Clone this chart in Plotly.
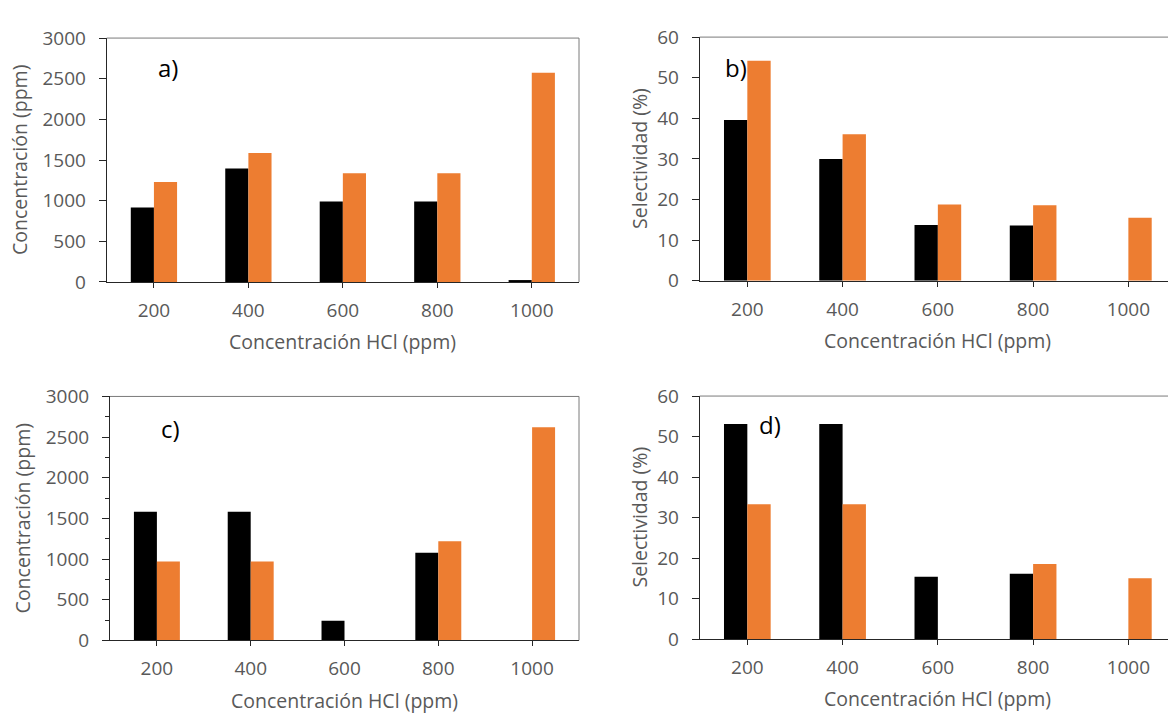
import plotly.graph_objects as go

# HCl concentration categories (ppm)
categories = ["200", "400", "600", "800", "1000"]

# a) concentration (ppm)
conc_a_black = [915, 1395, 990, 990, 12]
conc_a_orange = [1230, 1585, 1337, 1337, 2575]

# b) selectivity (%)
sel_b_black = [39.6, 30.0, 13.7, 13.6, 0]
sel_b_orange = [54.2, 36.1, 18.8, 18.6, 15.5]

# c) concentration (ppm)
conc_c_black = [1583, 1583, 241, 1077, 0]
conc_c_orange = [970, 970, 0, 1219, 2620]

# d) selectivity (%)
sel_d_black = [53.1, 53.1, 15.4, 16.1, 0]
sel_d_orange = [33.3, 33.3, 0, 18.5, 15.0]

panel_labels = ["a)", "b)", "c)", "d)"]
x_title = "Concentración HCl (ppm)"
y_titles = ["Concentración (ppm)", "Selectividad (%)", "Concentración (ppm)", "Selectividad (%)"]

W, H = 1168, 725
BLACK = "#000000"
ORANGE = "#ED7D31"
GREY = "#595959"
AXIS = "#262626"
FRAME = "#7a7a7a"
FONT = "Open Sans"
TICK_SIZE = 19
TITLE_SIZE = 19.5
BW = 0.245

fig = go.Figure()

panels = [
    ("x", "y", conc_a_black, conc_a_orange),
    ("x2", "y2", sel_b_black, sel_b_orange),
    ("x3", "y3", conc_c_black, conc_c_orange),
    ("x4", "y4", sel_d_black, sel_d_orange),
]
for xa, ya, blk, org in panels:
    fig.add_trace(go.Bar(x=categories, y=blk, xaxis=xa, yaxis=ya, width=BW, offset=-BW,
                         marker=dict(color=BLACK, line=dict(width=0)), showlegend=False))
    fig.add_trace(go.Bar(x=categories, y=org, xaxis=xa, yaxis=ya, width=BW, offset=0,
                         marker=dict(color=ORANGE, line=dict(width=0)), showlegend=False))

# plot-area boxes in pixels: (left, right, top, bottom); right panels run past the page edge
boxes = [
    (106.7, 579, 26, 279),
    (699.7, 1176, 25, 277.7),
    (110, 579, 397.7, 650.7),
    (699.7, 1176, 397.3, 649.3),
]

def px_x(v):
    return v / W

def px_y(v):
    return 1 - v / H

layout = dict(
    width=W, height=H, margin=dict(l=0, r=0, t=0, b=0),
    paper_bgcolor="white", plot_bgcolor="white",
    barmode="overlay", font=dict(family=FONT, size=TICK_SIZE, color=GREY),
)

annotations = []
shapes = []
for i, (l, r, t, b) in enumerate(boxes):
    sfx = "" if i == 0 else str(i + 1)
    right = min(r, W)
    ncat = (r - l) / 5.0
    xr = [-0.5, -0.5 + (right - l) / ncat]
    is_conc = i in (0, 2)
    layout["xaxis" + sfx] = dict(
        domain=[px_x(l), px_x(right)], anchor="y" + sfx, range=xr,
        type="category", showgrid=False, zeroline=False,
        showline=True, linecolor=AXIS, linewidth=1,
        ticks="outside", ticklen=5, tickcolor=AXIS,
        tickfont=dict(family=FONT, size=TICK_SIZE, color=GREY), ticklabelstandoff=6,
    )
    ydict = dict(
        domain=[px_y(b), px_y(t)], anchor="x" + sfx,
        range=[0, 3000] if is_conc else [0, 60], dtick=500 if is_conc else 10,
        showgrid=False, zeroline=False,
        showline=True, linecolor=AXIS, linewidth=1,
        ticks="outside", ticklen=7, tickcolor=AXIS,
        tickfont=dict(family=FONT, size=TICK_SIZE, color=GREY), ticklabelstandoff=9,
    )
    if i == 2:
        ydict["minor"] = dict(ticks="outside", ticklen=4, dtick=250, tickcolor=AXIS)
    layout["yaxis" + sfx] = ydict

    # lighter frame on the top (and right, where it is on the page)
    shapes.append(dict(type="line", xref="paper", yref="paper",
                       x0=px_x(l), x1=px_x(right), y0=px_y(t), y1=px_y(t),
                       line=dict(color=FRAME, width=1)))
    if r <= W:
        shapes.append(dict(type="line", xref="paper", yref="paper",
                           x0=px_x(r), x1=px_x(r), y0=px_y(b), y1=px_y(t),
                           line=dict(color=FRAME, width=1)))

    cx = (l + r) / 2
    annotations.append(dict(text=x_title, x=px_x(cx), y=px_y(b + 62), xref="paper", yref="paper",
                            xanchor="center", yanchor="middle", showarrow=False,
                            font=dict(family=FONT, size=TITLE_SIZE, color=GREY)))
    ytx = 19 if i == 0 else (22 if i == 2 else 640)
    annotations.append(dict(text=y_titles[i], x=px_x(ytx), y=px_y((t + b) / 2), xref="paper", yref="paper",
                            xanchor="center", yanchor="middle", textangle=-90, showarrow=False,
                            font=dict(family=FONT, size=TITLE_SIZE, color=GREY)))

label_pos = [(168, 57), (736, 57), (170, 431), (770, 427)]
for lab, (lx, ly) in zip(panel_labels, label_pos):
    annotations.append(dict(text=lab, x=px_x(lx), y=px_y(ly), xref="paper", yref="paper",
                            xanchor="center", yanchor="middle", showarrow=False,
                            font=dict(family=FONT, size=24, color="#000000")))

layout["annotations"] = annotations
layout["shapes"] = shapes
fig.update_layout(**layout)
fig.write_html("out.html")
